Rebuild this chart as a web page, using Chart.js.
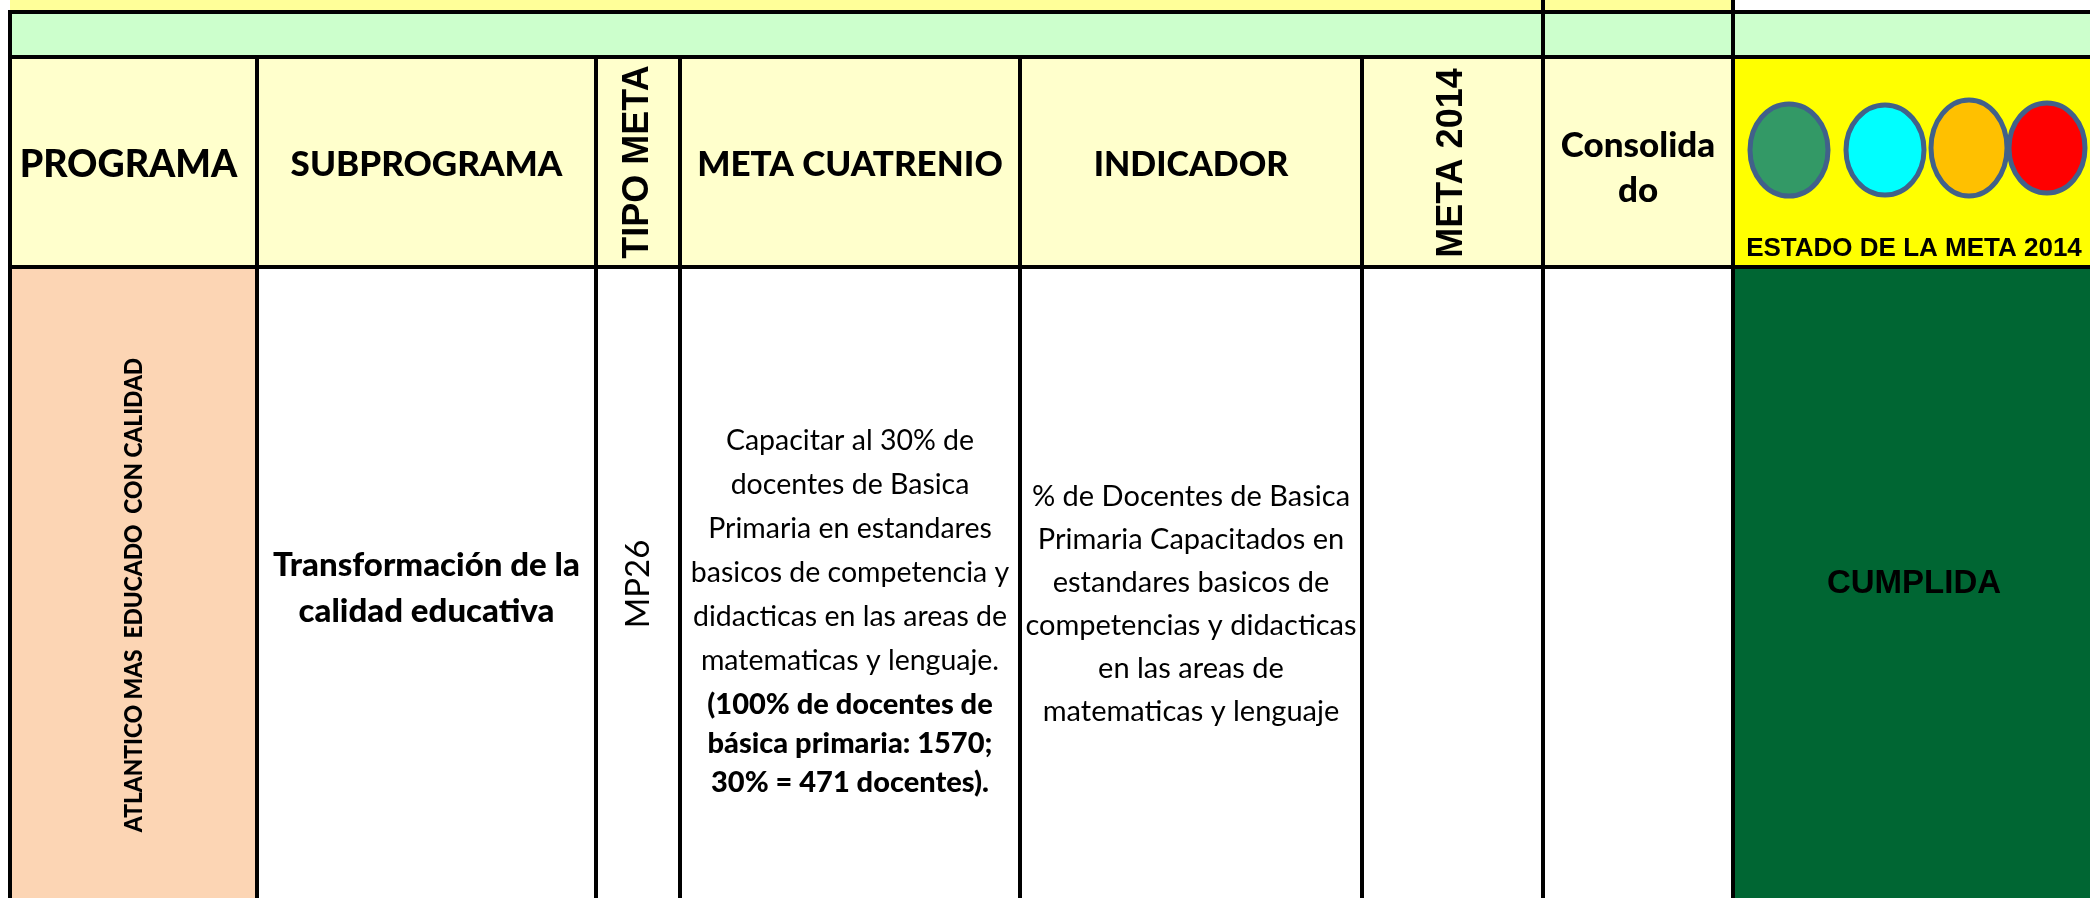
<!DOCTYPE html>
<html>
<head>
<meta charset="utf-8">
<script src="https://cdn.jsdelivr.net/npm/chart.js@4.4.8/dist/chart.umd.min.js"></script>
<style>
  html, body { margin: 0; padding: 0; background: #fff; overflow: hidden; }
  #wrap { width: 2090px; height: 898px; }
</style>
</head>
<body>
<div id="wrap"><canvas id="sheet" width="2090" height="898"></canvas></div>
<script>
// ---- table content ----
const HEADERS = ["PROGRAMA", "SUBPROGRAMA", "TIPO META", "META CUATRENIO", "INDICADOR", "META 2014", "Consolidado", "ESTADO DE LA META 2014"];
const CONSOLIDADO_LINES = ["Consolida", "do"];
const PROGRAMA = "ATLANTICO MAS  EDUCADO  CON CALIDAD";
const SUBPROGRAMA = ["Transformación de la", "calidad educativa"];
const TIPO_META = "MP26";
const META_CUATRENIO = [
  "Capacitar al 30% de",
  "docentes de Basica",
  "Primaria en estandares",
  "basicos de competencia y",
  "didacticas en las areas de",
  "matematicas y lenguaje."
];
const META_NOTA = ["(100% de docentes de", "básica primaria: 1570;", "30% = 471 docentes)."];
const INDICADOR = [
  "% de Docentes de Basica",
  "Primaria Capacitados en",
  "estandares basicos de",
  "competencias y didacticas",
  "en las areas de",
  "matematicas y lenguaje"
];
const META_2014 = "";
const CONSOLIDADO = "";
const ESTADO = "CUMPLIDA";

// ---- sheet layout (scale units) ----
const COL_EDGES = [10, 257, 596, 680, 1020, 1362, 1543, 1733, 2095];
const ROW_EDGES = [-20, 12, 57, 267, 920];
const LIGHTS = [
  { x: 1789, y: 150, rx: 39, ry: 46, fill: "#339966" },
  { x: 1885, y: 150, rx: 39, ry: 45, fill: "#00FFFF" },
  { x: 1969, y: 148, rx: 38, ry: 48, fill: "#FFC000" },
  { x: 2047, y: 148, rx: 38, ry: 45, fill: "#FF0000" }
];

const CALIBRI = "Lato, 'Open Sans', sans-serif";
const ARIAL = "'Liberation Sans', Arial, sans-serif";
const COLORS = {
  title: "#FFFF99",
  band: "#CCFFCC",
  header: "#FFFFCC",
  estadoHead: "#FFFF00",
  programa: "#FCD5B4",
  cumplida: "#006633",
  line: "#000000",
  lightEdge: "#41618A"
};

function sheetPlugin() {
  return {
    id: "sheet",
    afterDraw(chart) {
      const ctx = chart.ctx;
      const sx = (v) => chart.scales.x.getPixelForValue(v);
      const sy = (v) => chart.scales.y.getPixelForValue(v);
      const C = COL_EDGES, R = ROW_EDGES;

      function fill(x0, y0, x1, y1, color) {
        ctx.fillStyle = color;
        ctx.fillRect(sx(x0), sy(y0), sx(x1) - sx(x0), sy(y1) - sy(y0));
      }
      function text(str, x, y, font, rot, squeeze) {
        ctx.save();
        ctx.translate(sx(x), sy(y));
        if (rot) ctx.rotate(rot);
        if (squeeze) ctx.scale(squeeze, 1);
        ctx.font = font;
        ctx.fillStyle = "#000";
        ctx.textAlign = "center";
        ctx.textBaseline = "middle";
        ctx.fillText(str, 0, 0);
        ctx.restore();
      }
      function lines(arr, x, yFirst, step, font) {
        arr.forEach((s, i) => text(s, x, yFirst + i * step, font));
      }
      function mid(i) { return (C[i] + C[i + 1]) / 2; }
      function seg(x0, y0, x1, y1) {
        ctx.beginPath();
        ctx.moveTo(sx(x0), sy(y0));
        ctx.lineTo(sx(x1), sy(y1));
        ctx.stroke();
      }

      ctx.save();
      // fills
      fill(C[0], R[0], C[7], R[1], COLORS.title);
      fill(C[0], R[1], C[8], R[2], COLORS.band);
      fill(C[0], R[2], C[7], R[3], COLORS.header);
      fill(C[7], R[2], C[8], R[3], COLORS.estadoHead);
      fill(C[0], R[3], C[1], R[4], COLORS.programa);
      fill(C[7], R[3], C[8], R[4], COLORS.cumplida);

      // header texts
      const hY = 165;
      const hFont = "900 35px " + CALIBRI;
      text(HEADERS[0], mid(0) - 5, hY, "900 37.5px " + CALIBRI);
      text(HEADERS[1], mid(1), hY, hFont);
      text(HEADERS[2], mid(2), 162, "bold 36px " + ARIAL, -Math.PI / 2);
      text(HEADERS[3], mid(3), hY, hFont);
      text(HEADERS[4], mid(4), hY, "900 34px " + CALIBRI);
      text(HEADERS[5], mid(5), 163, "bold 36px " + ARIAL, -Math.PI / 2);
      lines(CONSOLIDADO_LINES, mid(6), 146, 45, hFont);
      text(HEADERS[7], mid(7), 249, "bold 26px " + ARIAL);

      // lights
      ctx.lineWidth = 5;
      ctx.strokeStyle = COLORS.lightEdge;
      LIGHTS.forEach((l) => {
        ctx.beginPath();
        ctx.ellipse(sx(l.x), sy(l.y), l.rx, l.ry, 0, 0, Math.PI * 2);
        ctx.fillStyle = l.fill;
        ctx.fill();
        ctx.stroke();
      });

      // data row
      text(PROGRAMA, mid(0), 595, "900 25px " + CALIBRI, -Math.PI / 2, 0.91);
      lines(SUBPROGRAMA, mid(1), 565, 46, "900 33px " + CALIBRI);
      text(TIPO_META, mid(2), 584, "33px " + CALIBRI, -Math.PI / 2);
      lines(META_CUATRENIO, mid(3), 441, 44, "28.5px " + CALIBRI);
      lines(META_NOTA, mid(3), 705, 39, "900 29px " + CALIBRI);
      lines(INDICADOR, mid(4), 497, 43, "29px " + CALIBRI);
      if (META_2014) text(META_2014, mid(5), 584, "29px " + CALIBRI);
      if (CONSOLIDADO) text(CONSOLIDADO, mid(6), 584, "29px " + CALIBRI);
      text(ESTADO, mid(7), 584, "bold 33px " + ARIAL);

      // grid lines
      ctx.strokeStyle = COLORS.line;
      ctx.lineWidth = 4;
      seg(C[0] - 2, R[1], C[8], R[1]);
      seg(C[0] - 2, R[2], C[8], R[2]);
      seg(C[0] - 2, R[3], C[8], R[3]);
      seg(C[0], R[1], C[0], R[4]);
      for (let i = 1; i <= 5; i++) seg(C[i], R[2], C[i], R[4]);
      seg(C[6], R[0], C[6], R[4]);
      seg(C[7], R[0], C[7], R[4]);
      ctx.restore();
    }
  };
}

const chart = new Chart(document.getElementById("sheet"), {
  type: "scatter",
  data: { datasets: [] },
  options: {
    responsive: false,
    animation: false,
    devicePixelRatio: 1,
    layout: { padding: 0 },
    plugins: { legend: { display: false }, tooltip: { enabled: false } },
    scales: {
      x: { type: "linear", min: 0, max: 2090, display: false },
      y: { type: "linear", min: 0, max: 898, reverse: true, display: false }
    }
  },
  plugins: [sheetPlugin()]
});
</script>
</body>
</html>
